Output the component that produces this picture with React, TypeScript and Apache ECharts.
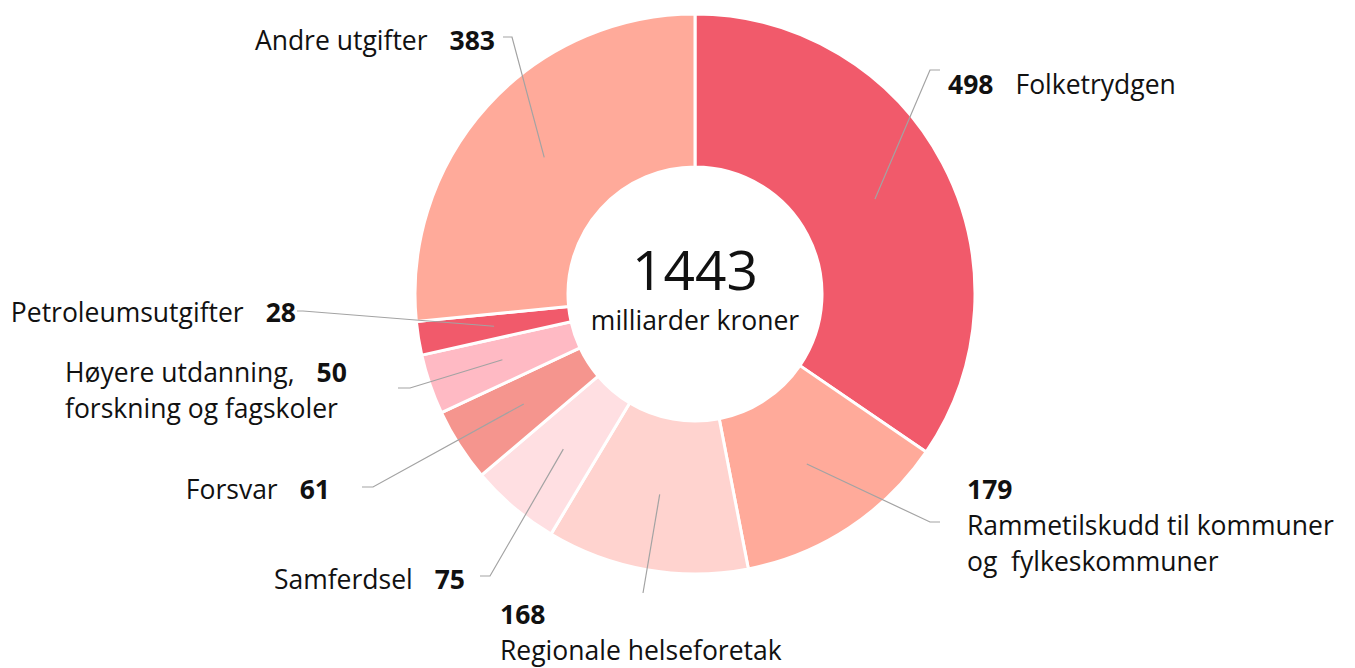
import React, { useEffect, useRef } from "react";
import * as echarts from "echarts";

const categories = [
  "Folketrydgen",
  "Rammetilskudd til kommuner\nog  fylkeskommuner",
  "Regionale helseforetak",
  "Samferdsel",
  "Forsvar",
  "Høyere utdanning,\nforskning og fagskoler",
  "Petroleumsutgifter",
  "Andre utgifter",
];
const values = [498, 179, 168, 75, 61, 50, 28, 383];
const colors = ["#F15A6B", "#FFAA9A", "#FFD3CF", "#FFDFE2", "#F5958E", "#FFBAC4", "#F15A6B", "#FFAA9A"];
const totalLabel = "1443";
const unitLabel = "milliarder kroner";

// label anchor: [x, y, align, elbow x, elbow y, end x]
const labelPlacement: [number, number, string, number, number, number][] = [
  [948, 84, "left", 930, 70, 940],
  [967, 525, "left", 930, 522, 940],
  [500, 632, "left", 643, 593, 643],
  [465, 579, "right", 490, 576, 480],
  [330, 489, "right", 373, 487, 362],
  [65, 390, "left", 410, 388, 398],
  [296, 312, "right", 303, 311, 297],
  [495, 40, "right", 512, 37, 503],
];

const CX = 695;
const CY = 294;
const R0 = 127;
const R1 = 280;
const FS = 26.5;

function labelText(i: number): string {
  const name = categories[i];
  const v = String(values[i]);
  const pos = labelPlacement[i];
  if (i === 0) return `{b|${v}}{s| }{n|${name}}`;
  if (i === 1 || i === 2) {
    return `{b|${v}}\n` + name.split("\n").map((s) => `{n|${s}}`).join("\n");
  }
  const parts = name.split("\n");
  if (parts.length > 1) {
    return `{n|${parts[0]}}{s| }{b|${v}}\n{n|${parts[1]}}`;
  }
  return pos[2] === "right" ? `{n|${name}}{s| }{b|${v}}` : `{b|${v}}{s| }{n|${name}}`;
}

export default function App() {
  const ref = useRef<HTMLDivElement>(null);
  useEffect(() => {
    if (!ref.current) return;
    const chart = echarts.init(ref.current, undefined, { renderer: "svg" });
    const font = "'Open Sans', sans-serif";
    const pieData = values.map((v, i) => ({
      value: v,
      name: categories[i],
      itemStyle: { color: colors[i] },
    }));
    chart.setOption({
      animation: false,
      backgroundColor: "#ffffff",
      graphic: [
        {
          type: "text",
          x: CX,
          y: 268,
          z: 100,
          style: {
            text: totalLabel,
            fontFamily: font,
            fontSize: 55,
            fill: "#111",
            align: "center",
            verticalAlign: "middle",
          },
        },
        {
          type: "text",
          x: CX,
          y: 320,
          z: 100,
          style: {
            text: unitLabel,
            fontFamily: font,
            fontSize: FS,
            fill: "#111",
            align: "center",
            verticalAlign: "middle",
          },
        },
      ],
      series: [
        {
          type: "pie",
          z: 2,
          center: [CX, CY],
          radius: [R0, R1],
          startAngle: 90,
          clockwise: true,
          silent: true,
          itemStyle: { borderColor: "#ffffff", borderWidth: 3 },
          label: { show: false },
          labelLine: { show: false },
          data: pieData,
        },
        {
          type: "pie",
          z: 5,
          center: [CX, CY],
          radius: [R0, R1],
          startAngle: 90,
          clockwise: true,
          silent: true,
          avoidLabelOverlap: false,
          itemStyle: { color: "rgba(0,0,0,0)", borderWidth: 0 },
          label: {
            show: true,
            position: "outside",
            fontFamily: font,
            fontSize: FS,
            color: "#111",
            rich: {
              b: { fontFamily: font, fontSize: FS, fontWeight: "bold", color: "#111", lineHeight: 36 },
              n: { fontFamily: font, fontSize: FS, color: "#111", lineHeight: 36 },
              s: { fontFamily: font, fontSize: FS, width: 22, lineHeight: 36 },
            },
          },
          labelLine: {
            show: true,
            length: 20,
            length2: 10,
            lineStyle: { color: "#a3a3a3", width: 1.2 },
          },
          labelLayout: (params: any) => {
            const i = params.dataIndex;
            const p = labelPlacement[i];
            const pts = params.labelLinePoints;
            let sx = CX;
            let sy = CY;
            if (pts && pts[0]) {
              const dx = pts[0][0] - CX;
              const dy = pts[0][1] - CY;
              const d = Math.sqrt(dx * dx + dy * dy) || 1;
              const mid = (R0 + R1) / 2;
              sx = CX + (dx / d) * mid;
              sy = CY + (dy / d) * mid;
            }
            return {
              x: p[0],
              y: p[1],
              align: p[2],
              verticalAlign: "middle",
              labelLinePoints: [
                [sx, sy],
                [p[3], p[4]],
                [p[5], p[4]],
              ],
            };
          },
          data: values.map((v, i) => ({
            value: v,
            name: categories[i],
            label: { formatter: labelText(i) },
          })),
        },
      ],
    });
    return () => chart.dispose();
  }, []);
  return (
    <div
      ref={ref}
      style={{ position: "absolute", left: 0, top: 0, width: 1355, height: 668 }}
    />
  );
}
